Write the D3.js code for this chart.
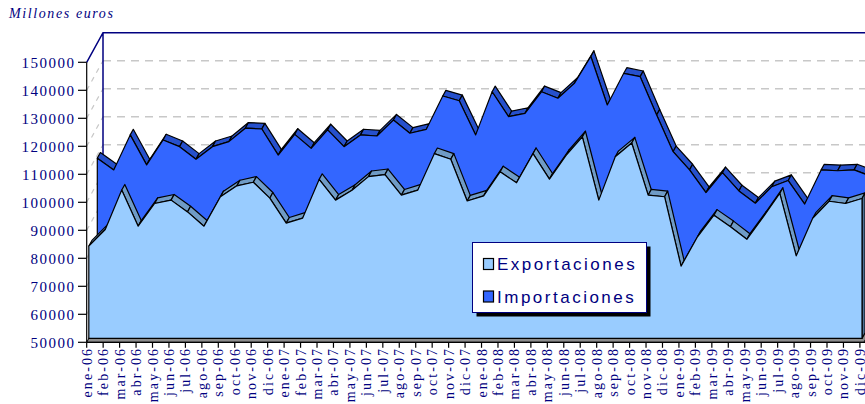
<!DOCTYPE html>
<html><head><meta charset="utf-8">
<script src="https://cdn.jsdelivr.net/npm/d3@7"></script>
<style>body{margin:0;background:#fff}svg{display:block}</style>
</head><body><svg id="c" width="865" height="404"></svg>
<script>
const months = ["ene-06","feb-06","mar-06","abr-06","may-06","jun-06","jul-06","ago-06","sep-06","oct-06","nov-06","dic-06",
"ene-07","feb-07","mar-07","abr-07","may-07","jun-07","jul-07","ago-07","sep-07","oct-07","nov-07","dic-07",
"ene-08","feb-08","mar-08","abr-08","may-08","jun-08","jul-08","ago-08","sep-08","oct-08","nov-08","dic-08",
"ene-09","feb-09","mar-09","abr-09","may-09","jun-09","jul-09","ago-09","sep-09","oct-09","nov-09","dic-09"];
const exportaciones = [83000,88900,103000,90100,98200,99400,95200,90100,100600,104500,105800,100100,
91200,93000,106800,99400,102900,107800,108500,101200,103000,116000,114000,99100,
100900,109500,105600,116000,106900,115300,122000,99400,114900,119800,101200,100600,
75800,86300,94000,89900,85400,93400,101800,79500,92900,99000,98200,100000];
const importaciones = [108900,104700,117200,106500,115400,113000,108500,113000,114800,119600,119300,110000,
117400,112400,119000,113000,117200,116800,122500,117800,119200,131100,129400,117200,
132600,123700,124900,132600,130300,135600,145200,127900,139200,138000,124300,111200,
104700,96600,103700,97200,92800,98700,100900,92500,104700,104400,104700,102500];
const yTicks = [50000,60000,70000,80000,90000,100000,110000,120000,130000,140000,150000];
const seriesNames = ["Exportaciones","Importaciones"];
const seriesColors = ["#99ccff","#3366ff"];
const topColors = ["#6f9bc6","#2650cc"];
const sideColors = ["#4d6f94","#1f3fa3"];

const svg = d3.select("#c");
const navy = "#000080";
const x = d3.scalePoint().domain(months).range([86.7, 859.9]);
const y = d3.scaleLinear().domain([50000,150000]).range([342.3, 62.3]);
const D = [16.3, -29.6];
const off = z => [D[0]*z, D[1]*z];
const x0 = x(months[0]);
const yMin = y(50000), yMax = y(150000);

// back wall
svg.append("polygon")
  .attr("points", [[x0+D[0], yMax+D[1]],[900, yMax+D[1]],[900, yMin+D[1]],[x0+D[0], yMin+D[1]]].map(p=>p.join(",")).join(" "))
  .attr("fill","#fff");
// side wall
svg.append("polygon")
  .attr("points", [[x0, yMax],[x0+D[0], yMax+D[1]],[x0+D[0], yMin+D[1]],[x0, yMin]].map(p=>p.join(",")).join(" "))
  .attr("fill","#fff");
// gridlines
const gridVals = yTicks.filter(v => v > 50000 && v < 150000);
svg.append("g").selectAll("line.g").data(gridVals).join("line")
  .attr("x1", x0+D[0]).attr("x2", 900)
  .attr("y1", d => y(d)+D[1]).attr("y2", d => y(d)+D[1])
  .attr("stroke","#c8c8c8").attr("stroke-width",1.5).attr("stroke-dasharray","8,6");
svg.append("g").selectAll("line.s").data(gridVals).join("line")
  .attr("x1", x0).attr("x2", x0+D[0])
  .attr("y1", d => y(d)).attr("y2", d => y(d)+D[1])
  .attr("stroke","#c8c8c8").attr("stroke-width",1.2).attr("stroke-dasharray","5,5");
// wall edges
svg.append("path").attr("d", `M${x0},${yMax}L${x0+D[0]},${yMax+D[1]}L900,${yMax+D[1]}M${x0+D[0]},${yMax+D[1]}L${x0+D[0]},${yMin+D[1]}`)
  .attr("fill","none").attr("stroke",navy).attr("stroke-width",1.5);
// floor
svg.append("polygon")
  .attr("points", [[x0, yMin],[x(months[47])+4, yMin],[x(months[47])+4+D[0], yMin+D[1]],[x0+D[0], yMin+D[1]]].map(p=>p.join(",")).join(" "))
  .attr("fill","#8c8c8c").attr("stroke","#000").attr("stroke-width",1);

function slab(values, z0, tz, cFront, cTop, cSide) {
  const o = off(z0), t = off(tz);
  const g = svg.append("g").attr("stroke","#000").attr("stroke-width",1.2).attr("stroke-linejoin","round");
  const F = months.map((m,i) => [x(m)+o[0], y(values[i])+o[1]]);
  const base = yMin + o[1];
  const segs = [];
  for (let i=0;i<F.length-1;i++){
    const sx = F[i+1][0]-F[i][0], sy = F[i+1][1]-F[i][1];
    if (sx*t[1] - sy*t[0] < 0) segs.push(i);
  }
  g.selectAll("polygon.top").data(segs).join("polygon")
    .attr("points", i => [F[i], F[i+1], [F[i+1][0]+t[0],F[i+1][1]+t[1]], [F[i][0]+t[0],F[i][1]+t[1]]].map(p=>p.join(",")).join(" "))
    .attr("fill", cTop);
  const L = F[F.length-1];
  g.append("polygon")
    .attr("points", [L,[L[0],base],[L[0]+t[0],base+t[1]],[L[0]+t[0],L[1]+t[1]]].map(p=>p.join(",")).join(" "))
    .attr("fill", cSide);
  const area = d3.area().x(d=>d[0]).y0(base).y1(d=>d[1]);
  g.append("path").attr("d", area(F)).attr("fill", cFront);
}
slab(importaciones, 0.65, 0.19, seriesColors[1], topColors[1], sideColors[1]);
slab(exportaciones, 0.13, 0.19, seriesColors[0], topColors[0], sideColors[0]);

// axes
svg.append("line").attr("x1",x0).attr("x2",x0).attr("y1",yMax).attr("y2",yMin).attr("stroke","#000").attr("stroke-width",1.2);
svg.append("line").attr("x1",x0).attr("x2",870).attr("y1",yMin).attr("y2",yMin).attr("stroke","#000").attr("stroke-width",1.2);
const yg = svg.append("g");
yg.selectAll("line").data(yTicks).join("line")
  .attr("x1",78).attr("x2",x0).attr("y1",d=>y(d)).attr("y2",d=>y(d)).attr("stroke","#000").attr("stroke-width",1.2);
yg.selectAll("text").data(yTicks).join("text")
  .attr("x",75.5).attr("y",d=>y(d)).attr("dy","0.35em")
  .attr("text-anchor","end").attr("font-family","'Liberation Serif', serif").attr("font-size",15)
  .attr("letter-spacing","1.5px").attr("fill",navy).text(d=>d);
const xg = svg.append("g");
xg.selectAll("line").data(months).join("line")
  .attr("x1",d=>x(d)).attr("x2",d=>x(d)).attr("y1",yMin).attr("y2",yMin+5.5).attr("stroke","#000").attr("stroke-width",1.2);
xg.selectAll("text").data(months).join("text")
  .attr("transform", d=>`translate(${x(d)+5},${346.8}) rotate(-90)`)
  .attr("text-anchor","end").attr("font-family","'Liberation Serif', serif").attr("font-size",14)
  .attr("letter-spacing","2.1px").attr("fill",navy).text(d=>d);

// title
svg.append("text").attr("x",9).attr("y",17.5).attr("font-family","'Liberation Serif', serif").attr("font-style","italic")
  .attr("font-size",14).attr("letter-spacing","1.6px").attr("fill",navy).text("Millones euros");

// legend
const lg = svg.append("g");
lg.append("rect").attr("x",476.5).attr("y",246.5).attr("width",174).attr("height",70).attr("fill","#000");
lg.append("rect").attr("x",472.5).attr("y",242.5).attr("width",174).attr("height",70).attr("fill","#fff").attr("stroke",navy).attr("stroke-width",1);
seriesNames.forEach((n,i)=>{
  lg.append("rect").attr("x",483.5).attr("y",258.5+i*32.5).attr("width",10).attr("height",11)
    .attr("fill",seriesColors[i]).attr("stroke","#000").attr("stroke-width",1.2);
  lg.append("text").attr("x",497).attr("y",269.5+i*33).attr("font-family","'Liberation Sans', Arial, sans-serif")
    .attr("font-size",17).attr("letter-spacing","2.5px").attr("fill",navy).text(n);
});
</script>
</body></html>
